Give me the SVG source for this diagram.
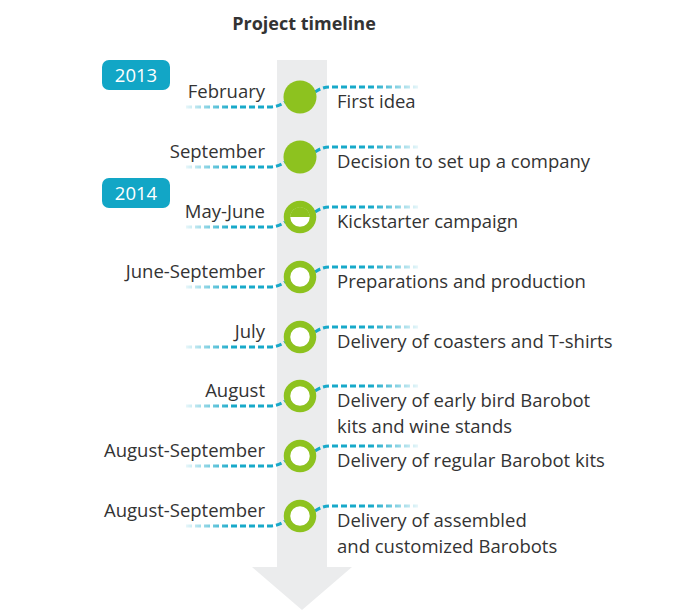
<svg xmlns="http://www.w3.org/2000/svg" width="700" height="613" viewBox="0 0 700 613">
<defs>
<linearGradient id="fl" gradientUnits="userSpaceOnUse" x1="186" y1="0" x2="232" y2="0">
<stop offset="0" stop-color="#18a9c9" stop-opacity="0.1"/>
<stop offset="1" stop-color="#18a9c9" stop-opacity="1"/>
</linearGradient>
<linearGradient id="fr" gradientUnits="userSpaceOnUse" x1="372" y1="0" x2="418" y2="0">
<stop offset="0" stop-color="#18a9c9" stop-opacity="1"/>
<stop offset="1" stop-color="#18a9c9" stop-opacity="0.1"/>
</linearGradient>
</defs>
<style>
text{font-family:"Open Sans","Noto Sans","DejaVu Sans",sans-serif;fill:#333;font-size:18.5px}
.l{text-anchor:end}
.t{font-weight:bold;font-size:18px;text-anchor:middle}
.y{fill:#fff;text-anchor:middle}
.yb{fill:#12a6c6}
.cl{fill:none;stroke:url(#fl);stroke-width:3;stroke-dasharray:6 3}
.cr{fill:none;stroke:url(#fr);stroke-width:3;stroke-dasharray:6 3}
.f{fill:#8dc21f}
.r{fill:#fff;stroke:#8dc21f;stroke-width:6.5}
</style>
<rect x="0" y="0" width="700" height="613" fill="#fff"/>
<g id="axis">
<rect x="277" y="60" width="50" height="508" fill="#ebeced"/>
<polygon points="252,567 352,567 302,610" fill="#ebeced"/>
</g>
<text class="t" x="304" y="30">Project timeline</text>
<g id="year2013"><rect class="yb" x="102" y="60" width="68" height="30" rx="7"/><text class="y" x="136" y="82">2013</text></g>
<g id="year2014"><rect class="yb" x="102" y="178" width="68" height="30" rx="7"/><text class="y" x="136" y="200">2014</text></g>
<g id="connectors">
<path class="cl" d="M186,107 L270,107 Q278,107 285,102"/><path class="cr" d="M315,92 Q322,87 330,87 L418,87"/>
<path class="cl" d="M186,167 L270,167 Q278,167 285,162"/><path class="cr" d="M315,152 Q322,147 330,147 L418,147"/>
<path class="cl" d="M186,227 L270,227 Q278,227 285,222"/><path class="cr" d="M315,212 Q322,207 330,207 L418,207"/>
<path class="cl" d="M186,287 L270,287 Q278,287 285,282"/><path class="cr" d="M315,272 Q322,267 330,267 L418,267"/>
<path class="cl" d="M186,347 L270,347 Q278,347 285,342"/><path class="cr" d="M315,332 Q322,327 330,327 L418,327"/>
<path class="cl" d="M186,406 L270,406 Q278,406 285,401"/><path class="cr" d="M315,391 Q322,386 330,386 L418,386"/>
<path class="cl" d="M186,466 L270,466 Q278,466 285,461"/><path class="cr" d="M315,451 Q322,446 330,446 L418,446"/>
<path class="cl" d="M186,526 L270,526 Q278,526 285,521"/><path class="cr" d="M315,511 Q322,506 330,506 L418,506"/>
</g>
<g id="e1"><circle class="f" cx="300" cy="97" r="16.5"/><text class="l" x="265" y="98">February</text><text x="337" y="108">First idea</text></g>
<g id="e2"><circle class="f" cx="300" cy="157" r="16.5"/><text class="l" x="265" y="158">September</text><text x="337" y="168">Decision to set up a company</text></g>
<g id="e3"><circle class="r" cx="300" cy="217" r="13"/><path class="f" d="M290,217 A10,10 0 0 1 310,217 Z"/><text class="l" x="265" y="218">May-June</text><text x="337" y="228">Kickstarter campaign</text></g>
<g id="e4"><circle class="r" cx="300" cy="277" r="13"/><text class="l" x="265" y="278">June-September</text><text x="337" y="288">Preparations and production</text></g>
<g id="e5"><circle class="r" cx="300" cy="337" r="13"/><text class="l" x="265" y="338">July</text><text x="337" y="348">Delivery of coasters and T-shirts</text></g>
<g id="e6"><circle class="r" cx="300" cy="396" r="13"/><text class="l" x="265" y="397">August</text><text x="337" y="407">Delivery of early bird Barobot</text><text x="337" y="433">kits and wine stands</text></g>
<g id="e7"><circle class="r" cx="300" cy="456" r="13"/><text class="l" x="265" y="457">August-September</text><text x="337" y="467">Delivery of regular Barobot kits</text></g>
<g id="e8"><circle class="r" cx="300" cy="516" r="13"/><text class="l" x="265" y="517">August-September</text><text x="337" y="527">Delivery of assembled</text><text x="337" y="553">and customized Barobots</text></g>
</svg>
